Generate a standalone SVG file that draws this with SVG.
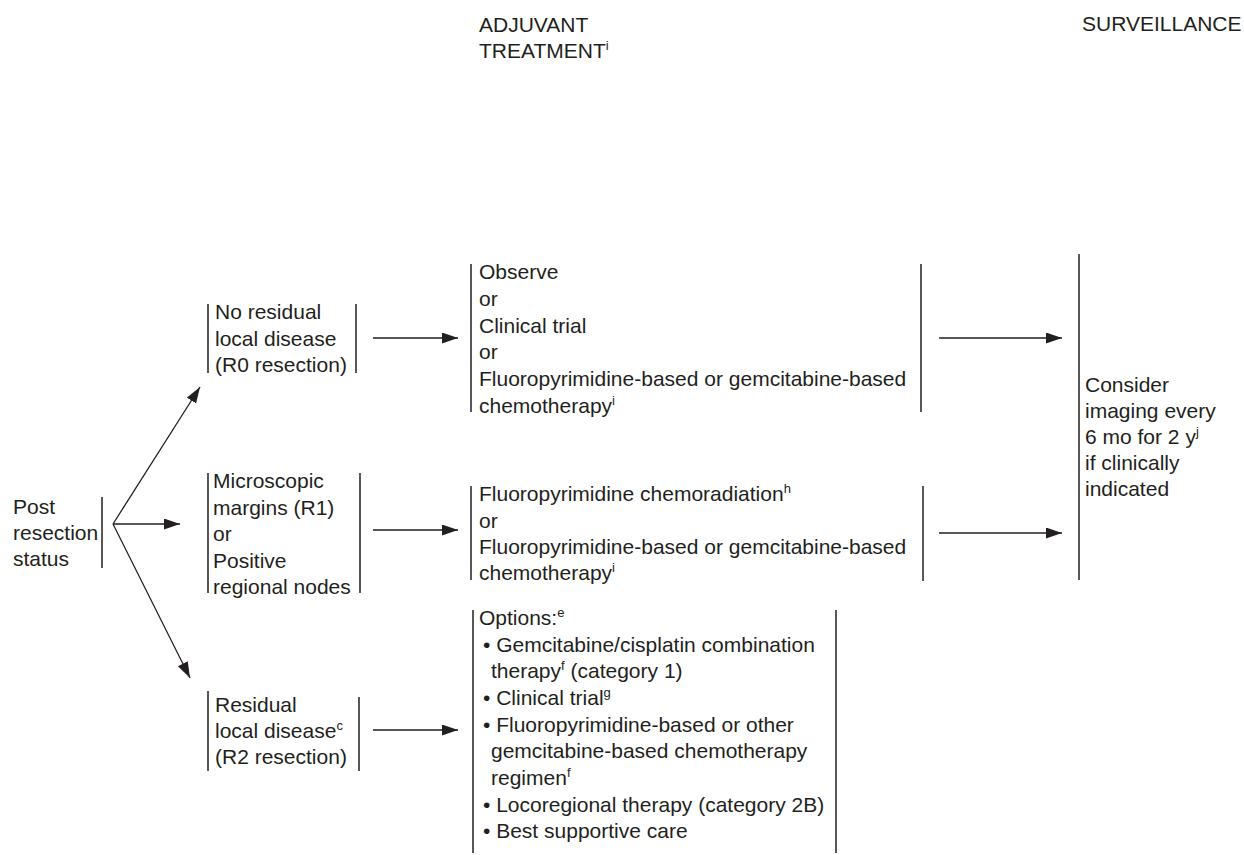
<svg xmlns="http://www.w3.org/2000/svg" width="1244" height="855" viewBox="0 0 1244 855">
<style>
text{font-family:"Liberation Sans",Arial,sans-serif;font-size:21px;fill:#231f20}
.sup{font-size:13px}
.bar{stroke:#231f20;stroke-width:1.5;fill:none}
.con{stroke:#231f20;stroke-width:1.3;fill:none;marker-end:url(#ah)}
</style>
<defs>
<marker id="ah" markerUnits="userSpaceOnUse" markerWidth="17" markerHeight="12" refX="16" refY="5.5" orient="auto">
<path d="M0,0 L16,5.5 L0,11 z" fill="#231f20"/>
</marker>
</defs>
<rect width="1244" height="855" fill="#fff"/>
<g id="headers">
<text x="479" y="32">ADJUVANT</text>
<text x="479" y="58">TREATMENT<tspan class="sup" dy="-8">i</tspan></text>
<text x="1082" y="31">SURVEILLANCE</text>
</g>
<g id="post">
<text x="13" y="514">Post</text>
<text x="13" y="540">resection</text>
<text x="13" y="566">status</text>
<line class="bar" x1="102" y1="497" x2="102" y2="568"/>
</g>
<g id="r0">
<line class="bar" x1="208" y1="304" x2="208" y2="373"/>
<text x="215" y="319">No residual</text>
<text x="215" y="346">local disease</text>
<text x="215" y="372">(R0 resection)</text>
<line class="bar" x1="356" y1="304" x2="356" y2="373"/>
</g>
<g id="r1">
<line class="bar" x1="208" y1="473" x2="208" y2="593"/>
<text x="213" y="488">Microscopic</text>
<text x="213" y="515">margins (R1)</text>
<text x="213" y="541">or</text>
<text x="213" y="568">Positive</text>
<text x="213" y="594">regional nodes</text>
<line class="bar" x1="360" y1="473" x2="360" y2="593"/>
</g>
<g id="r2">
<line class="bar" x1="208" y1="691" x2="208" y2="771"/>
<text x="215" y="712">Residual</text>
<text x="215" y="738">local disease<tspan class="sup" dy="-8">c</tspan></text>
<text x="215" y="764">(R2 resection)</text>
<line class="bar" x1="359" y1="697" x2="359" y2="771"/>
</g>
<g id="adj-r0">
<line class="bar" x1="471" y1="264" x2="471" y2="412"/>
<text x="479" y="279">Observe</text>
<text x="479" y="306">or</text>
<text x="479" y="333">Clinical trial</text>
<text x="479" y="359">or</text>
<text x="479" y="386">Fluoropyrimidine-based or gemcitabine-based</text>
<text x="479" y="413">chemotherapy<tspan class="sup" dy="-8">i</tspan></text>
<line class="bar" x1="921" y1="264" x2="921" y2="412"/>
</g>
<g id="adj-r1">
<line class="bar" x1="471" y1="486" x2="471" y2="580"/>
<text x="479" y="501">Fluoropyrimidine chemoradiation<tspan class="sup" dy="-8">h</tspan></text>
<text x="479" y="528">or</text>
<text x="479" y="554">Fluoropyrimidine-based or gemcitabine-based</text>
<text x="479" y="580">chemotherapy<tspan class="sup" dy="-8">i</tspan></text>
<line class="bar" x1="923" y1="486" x2="923" y2="581"/>
</g>
<g id="adj-r2">
<line class="bar" x1="473" y1="610" x2="473" y2="853"/>
<text x="479" y="625">Options:<tspan class="sup" dy="-8">e</tspan></text>
<text x="483" y="652">• Gemcitabine/cisplatin combination</text>
<text x="491" y="678">therapy<tspan class="sup" dy="-8">f</tspan><tspan dy="8"> (category 1)</tspan></text>
<text x="483" y="705">• Clinical trial<tspan class="sup" dy="-8">g</tspan></text>
<text x="483" y="732">• Fluoropyrimidine-based or other</text>
<text x="491" y="758">gemcitabine-based chemotherapy</text>
<text x="491" y="785">regimen<tspan class="sup" dy="-8">f</tspan></text>
<text x="483" y="812">• Locoregional therapy (category 2B)</text>
<text x="483" y="838">• Best supportive care</text>
<line class="bar" x1="836" y1="610" x2="836" y2="853"/>
</g>
<g id="surveillance">
<line class="bar" x1="1079" y1="254" x2="1079" y2="580"/>
<text x="1085" y="392">Consider</text>
<text x="1085" y="418">imaging every</text>
<text x="1085" y="444">6 mo for 2 y<tspan class="sup" dy="-8">j</tspan></text>
<text x="1085" y="470">if clinically</text>
<text x="1085" y="496">indicated</text>
</g>
<g id="connectors">
<line class="con" x1="113" y1="524" x2="200" y2="387"/>
<line class="con" x1="113" y1="524" x2="180" y2="524"/>
<line class="con" x1="113" y1="524" x2="190" y2="678"/>
<line class="con" x1="373" y1="338" x2="458" y2="338"/>
<line class="con" x1="373" y1="530" x2="458" y2="530"/>
<line class="con" x1="373" y1="730" x2="458" y2="730"/>
<line class="con" x1="939" y1="338" x2="1062" y2="338"/>
<line class="con" x1="939" y1="533" x2="1062" y2="533"/>
</g>
</svg>
